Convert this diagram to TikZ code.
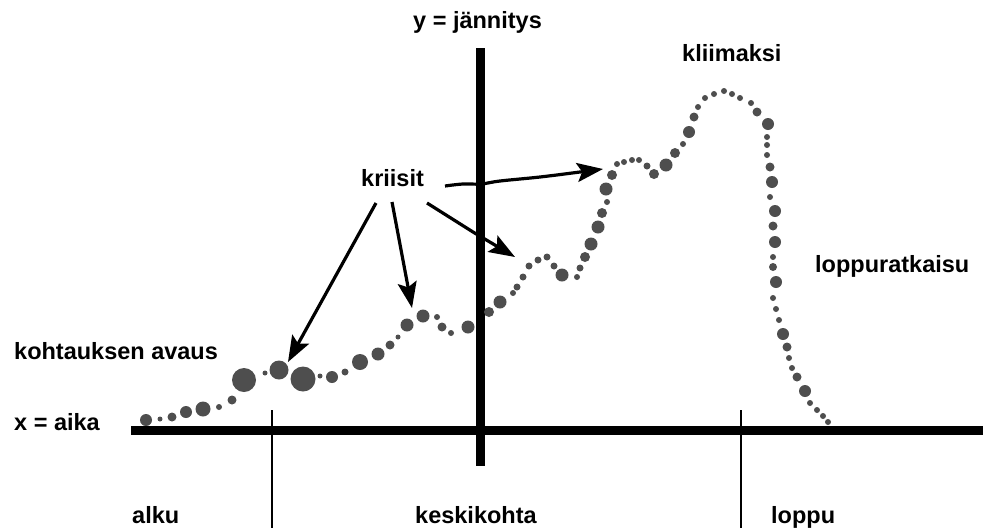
\documentclass[tikz,border=0pt]{standalone}
\usepackage{fontspec}
\setmainfont{Liberation Sans}
\usetikzlibrary{arrows.meta}
\definecolor{dotgray}{RGB}{78,78,78}
\tikzset{
  lbl/.style={font=\fontsize{23.5}{27}\selectfont\bfseries, inner sep=0pt, anchor=base west},
  axis/.style={line width=9pt},
  tickline/.style={line width=2pt},
  arr/.style={line width=3.2pt, -{Stealth[length=26pt,width=19pt,inset=5pt]}},
  dot/.style={fill=dotgray}
}
\begin{document}
\begin{tikzpicture}[x=1pt,y=-1pt]
\useasboundingbox (0,0) rectangle (985,528);
% axes
\coordinate (xl) at (131,430.5);
\coordinate (xr) at (983,430.5);
\coordinate (yt) at (480,48);
\coordinate (yb) at (480,466);
\draw[axis] (xl) -- (xr);
\draw[axis] (yt) -- (yb);
\coordinate (t1t) at (272,410);
\coordinate (t1b) at (272,528);
\coordinate (t2t) at (741,410);
\coordinate (t2b) at (741,528);
\draw[tickline] (t1t) -- (t1b);
\draw[tickline] (t2t) -- (t2b);
% dots
\foreach \x/\y/\r in {
146/420/6, 160/419/2.5, 172/417/4.5, 186/412/6, 203/409/7.5, 219/407/3,
232/400/4.5, 244/380/12, 265/373/2.5, 279/370/9.5, 303/379/12.5, 320/376/2.5,
332/377/6, 345/372/3.5, 360/362/8, 378/354/6.5, 390/345/4.5, 398/337/2.5,
407/325/6.5, 423/316/6.5, 437/317/3, 442/327/4.5, 451/333/3, 468/327/6.5,
489/312/5, 500/302/6.5, 513/293/3, 517/287/3.5, 523/277/3.5, 529/266/3.5,
538/260/3.5, 547/257/3.5, 554/266/3.5, 562/275/6.5, 577/277/3, 580/268/3.5,
585/257/5, 591/244/6.5, 598/227/6.5, 602/213/5, 607/202/3, 606/189/6.5,
612/175/5, 617/164/3, 624/162/3, 632/160/3, 639/160/3, 647/166/3.5,
654/174/5, 666/165/6.5, 675/153/5, 683/144/3, 689/132/6, 694/117/4.5,
698/107/3, 705/98/3, 714/94/3, 724/91/3, 732/94/3, 740/98/3,
751/103/3, 757/112/4.5, 768/124/6, 767/137/3, 767/145/3, 767/155/3,
770/167/4.5, 772/182/6, 770/197/3, 775/211/6, 773/226/4.5, 775/242/6,
773/257/3, 773/267/4, 776/282/6, 773/298/3, 776/309/3, 779/320/3,
783/334/6, 787/347/4.5, 789/358/3, 792/368/3, 797/377/4.5, 805/391/6,
810/403/3, 817/410/3, 823/416/3, 828/422/3}
  \fill[dot] (\x,\y) circle[radius=\r pt];
% labels
\node[lbl] (ylab) at (413,28) {y = jännitys};
\node[lbl] (klim) at (682,61) {kliimaksi};
\node[lbl] (kri) at (361,186) {kriisit};
\node[lbl] (lop) at (815,272) {loppuratkaisu};
\node[lbl] (avaus) at (14,359) {kohtauksen avaus};
\node[lbl] (xlab) at (14,430) {x = aika};
\node[lbl] (alku) at (132,523) {alku};
\node[lbl] (kesk) at (415,523) {keskikohta};
\node[lbl] (loppu) at (771,523) {loppu};
% arrows
\coordinate (a1s) at (376,203);
\coordinate (a1e) at (288,362);
\coordinate (a2s) at (392,202);
\coordinate (a2e) at (412,308);
\coordinate (a3s) at (427,203);
\coordinate (a3m) at (473,232);
\coordinate (a3e) at (515,257);
\coordinate (a4s) at (445,186);
\coordinate (a4e) at (603,169);
\draw[arr] (a1s) -- (a1e);
\draw[arr] (a2s) -- (a2e);
\draw[arr] (a3s) -- (a3m) -- (a3e);
\draw[arr] plot[smooth, tension=0.6] coordinates {(a4s) (463,184) (481,184) (500,181) (540,177) (580,172) (a4e)};
\end{tikzpicture}
\end{document}
